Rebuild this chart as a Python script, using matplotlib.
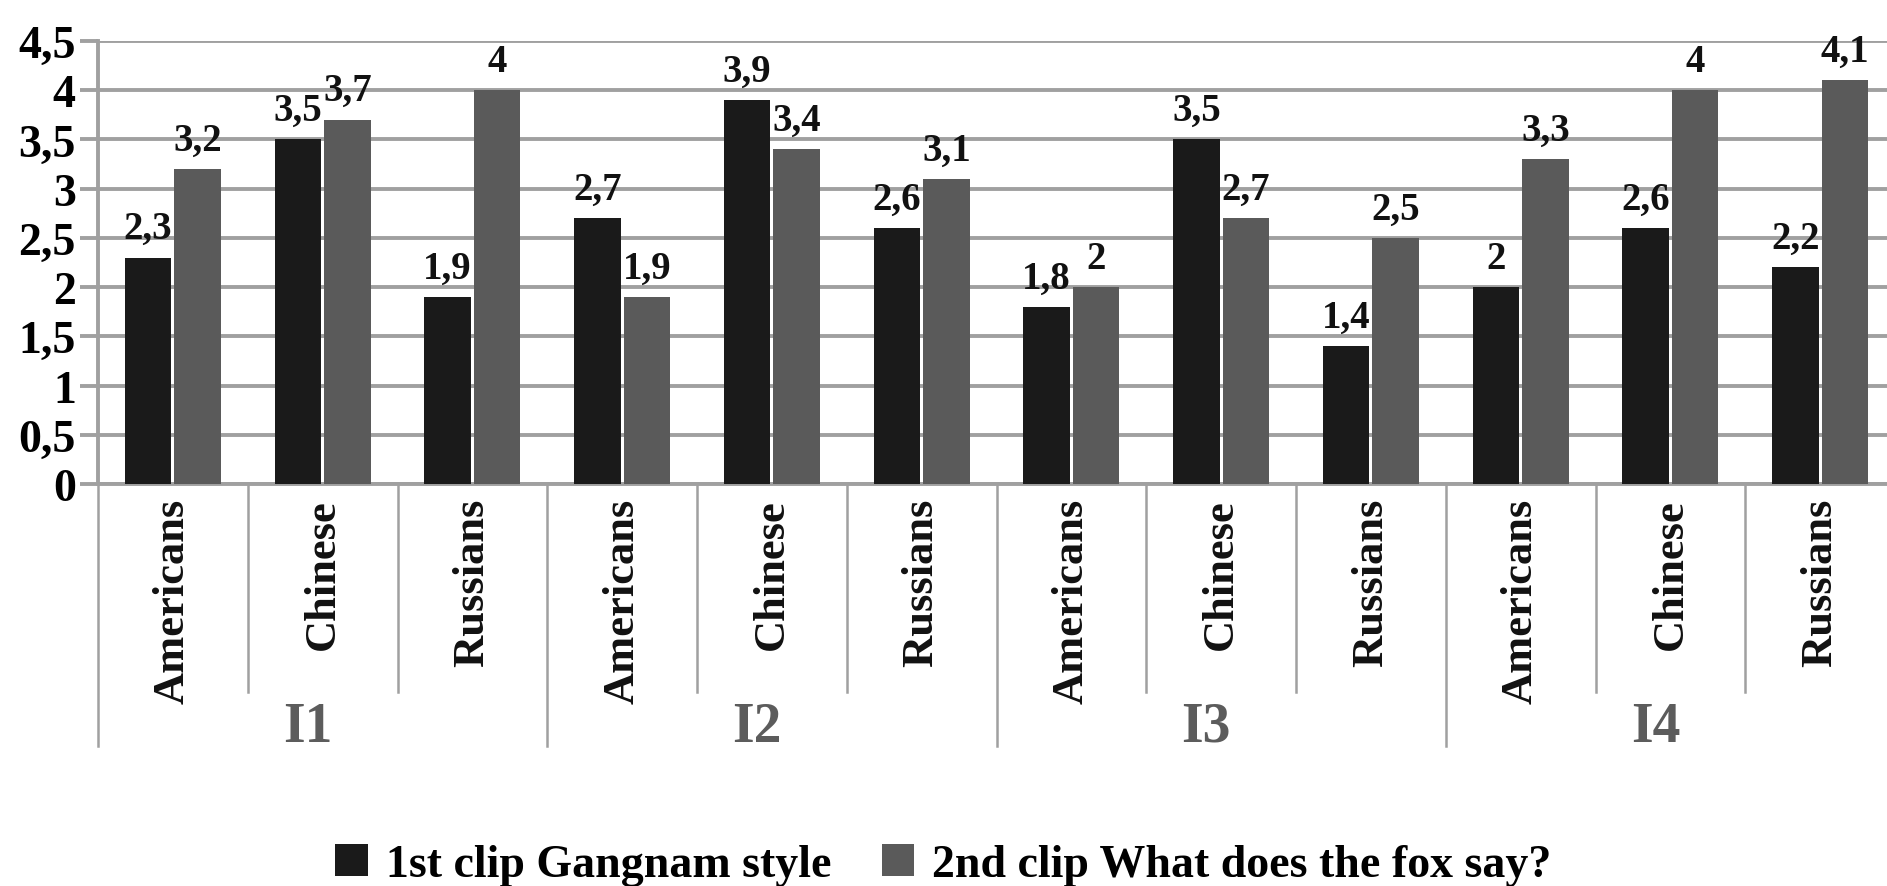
import matplotlib
matplotlib.use("Agg")
import matplotlib.pyplot as plt
import matplotlib.transforms as mtransforms
from matplotlib.patches import Patch

plt.rcParams['font.family'] = ['Liberation Serif', 'DejaVu Serif']
plt.rcParams['font.weight'] = 'bold'

groups = ["I1", "I2", "I3", "I4"]
nationalities = ["Americans", "Chinese", "Russians"]
series_names = ["1st clip Gangnam style", "2nd clip What does the fox say?"]
clip1 = [2.3, 3.5, 1.9, 2.7, 3.9, 2.6, 1.8, 3.5, 1.4, 2.0, 2.6, 2.2]
clip2 = [3.2, 3.7, 4.0, 1.9, 3.4, 3.1, 2.0, 2.7, 2.5, 3.3, 4.0, 4.1]
yticks = [0, 0.5, 1, 1.5, 2, 2.5, 3, 3.5, 4, 4.5]

c_black = "#1a1a1a"
c_gray = "#5a5a5a"
grid_c = "#a0a0a0"

W, H = 1887, 887
fig = plt.figure(figsize=(W / 100, H / 100), dpi=100)
ax_left, ax_right = 98 / W, 1895 / W
ax_top, ax_bot = 42, 485
ax = fig.add_axes([ax_left, (H - ax_bot) / H, ax_right - ax_left, (ax_bot - ax_top) / H])

n = len(clip1)
x = list(range(n))
bw = 0.31
off = 0.165
ax.bar([i - off for i in x], clip1, width=bw, color=c_black, zorder=3)
ax.bar([i + off for i in x], clip2, width=bw, color=c_gray, zorder=3)

def fmt(v):
    if float(v).is_integer():
        return str(int(v))
    return ("%g" % v).replace(".", ",")

for i in x:
    for xv, v in ((i - off, clip1[i]), (i + off, clip2[i])):
        ax.annotate(fmt(v), (xv, v), xytext=(0, 14), textcoords="offset points",
                    ha="center", va="baseline", fontsize=28, fontweight="bold",
                    color="#111111", zorder=4)

ax.set_xlim(-0.5, n - 0.5)
ax.set_ylim(0, 4.5)
ax.set_yticks(yticks)
ax.set_yticklabels([fmt(t) for t in yticks], fontsize=33, fontweight="bold")
ax.tick_params(axis="y", length=13, width=2.8, color=grid_c, pad=3)
ax.set_xticks([])
ax.yaxis.grid(True, color=grid_c, linewidth=2.8, zorder=0)
ax.set_axisbelow(True)
for s in ("top", "right"):
    ax.spines[s].set_visible(False)
for s in ("left", "bottom"):
    ax.spines[s].set_color(grid_c)
    ax.spines[s].set_linewidth(2.8)

trans = mtransforms.blended_transform_factory(ax.transData, ax.transAxes)
ah = ax_bot - ax_top
inner_y = -(693 - ax_bot) / ah
outer_y = -(747 - ax_bot) / ah
for b in range(n + 1):
    xb = b - 0.5
    yb = outer_y if b % 3 == 0 else inner_y
    ax.plot([xb, xb], [0, yb], transform=trans, color=grid_c, linewidth=1.8,
            clip_on=False, zorder=1)

lab_y = -(499 - ax_bot) / ah
for i in x:
    ax.text(i, lab_y, nationalities[i % 3], transform=trans, rotation=90,
            ha="center", va="top", fontsize=32, fontweight="bold", color="#111111")

grp_y = -(728 - ax_bot) / ah
for g, name in enumerate(groups):
    ax.text(3 * g + 1 - 0.1, grp_y, name, transform=trans, ha="center", va="center",
            fontsize=40, fontweight="bold", color="#5c5c5c")

handles = [Patch(facecolor=c_black, label=series_names[0]),
           Patch(facecolor=c_gray, label=series_names[1])]
fig.legend(handles=handles, loc="center", bbox_to_anchor=(0.5, (H - 866) / H),
           ncol=2, frameon=False, handlelength=0.7, handleheight=0.7,
           handletextpad=0.4, columnspacing=1.1, borderpad=0,
           prop={"weight": "bold", "size": 33})

fig.savefig("out.png", dpi=100)
